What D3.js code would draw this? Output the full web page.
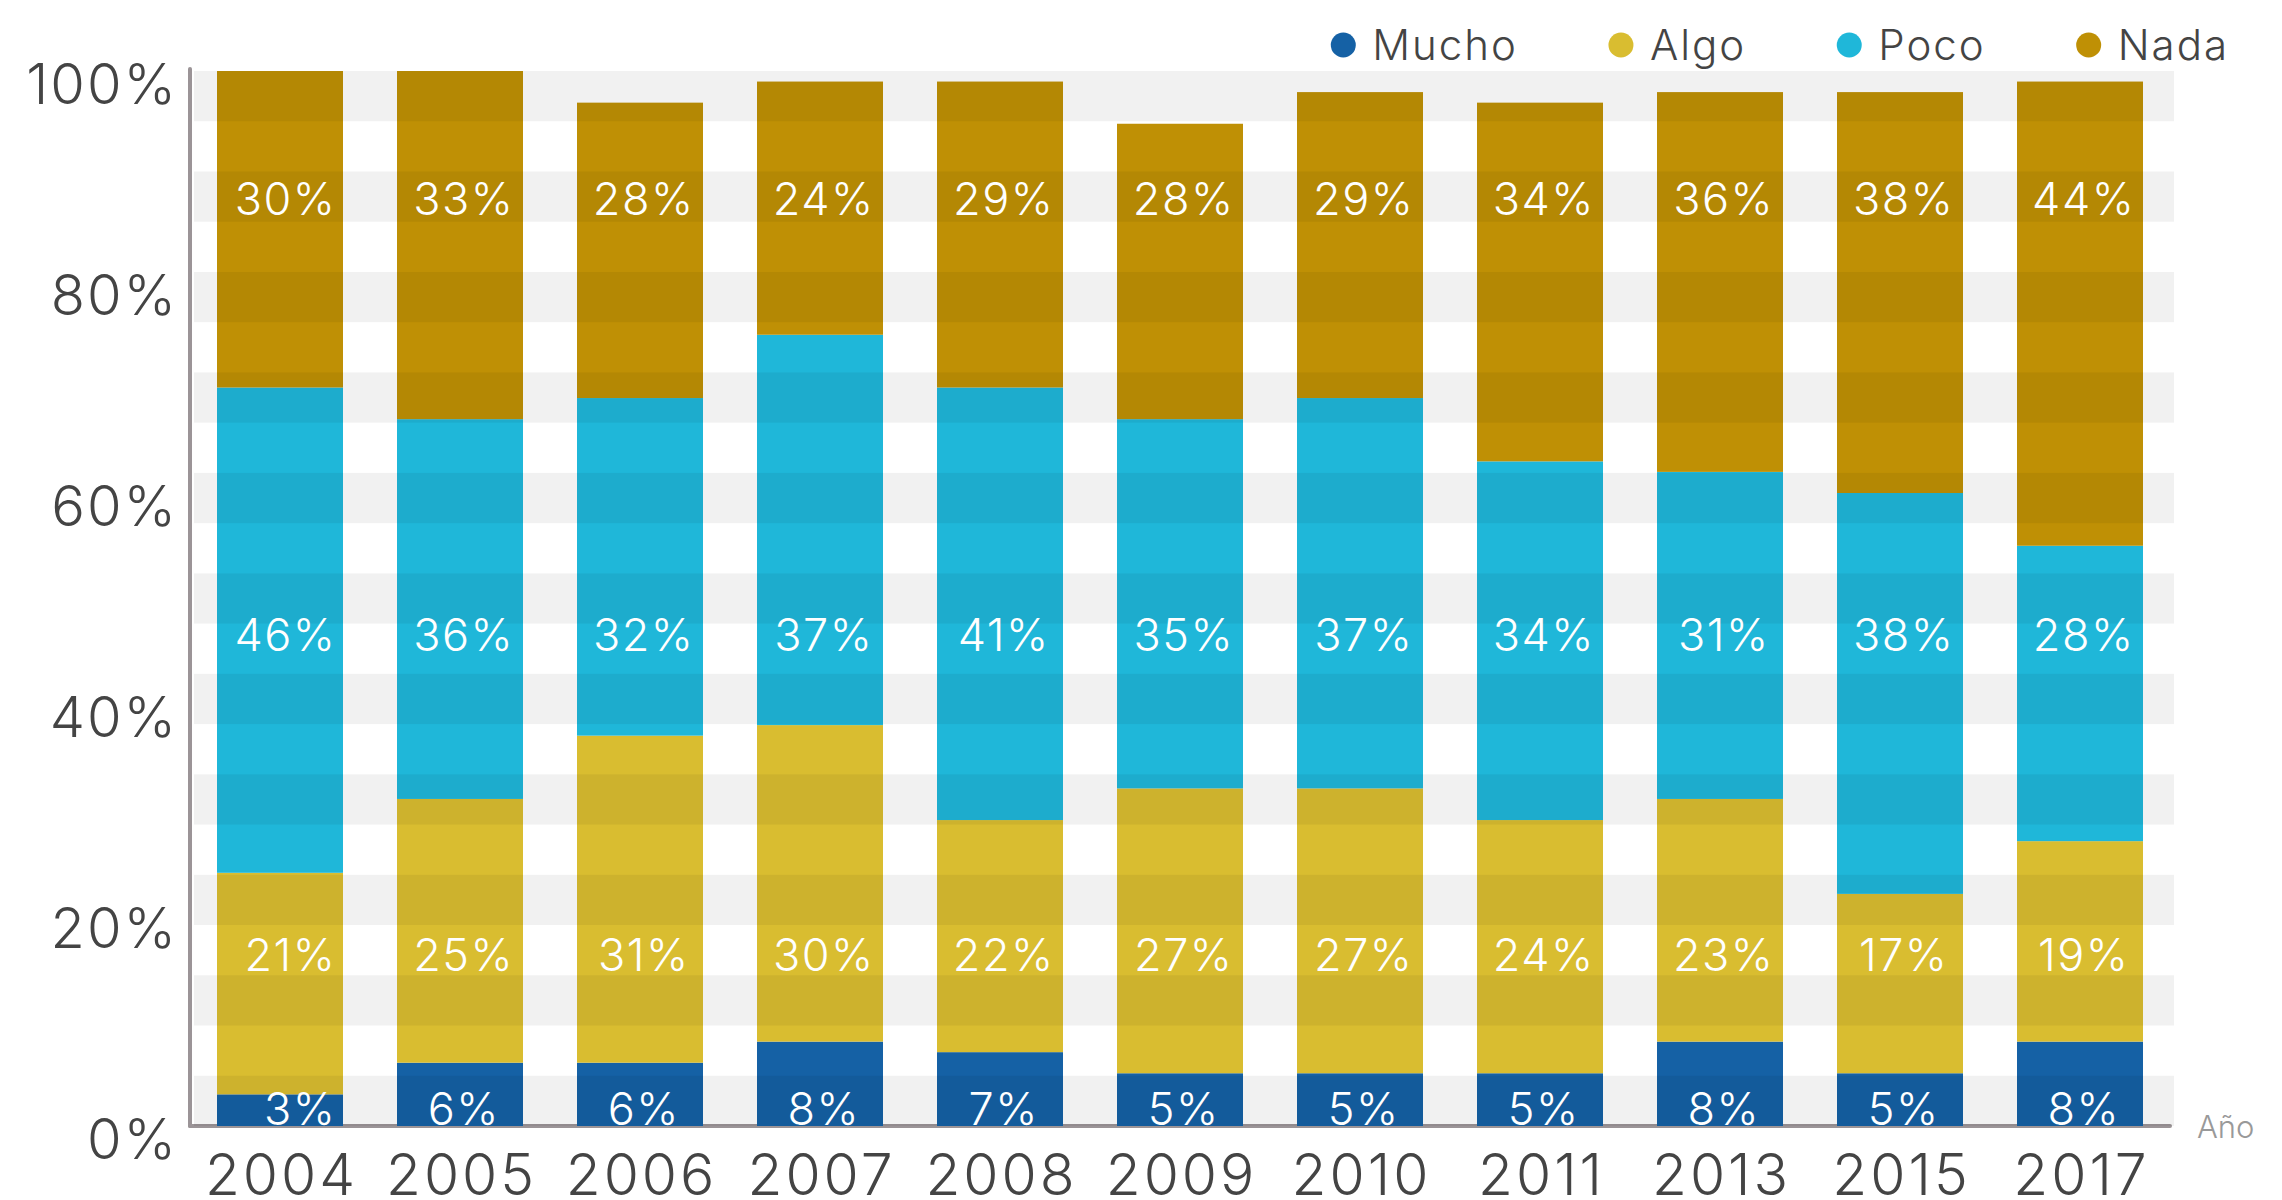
<!DOCTYPE html>
<html>
<head>
<meta charset="utf-8">
<script src="https://cdnjs.cloudflare.com/ajax/libs/d3/7.8.5/d3.min.js"></script>
<style>
  body { margin: 0; background: #fff; }
  text { font-family: Inter, Lato, sans-serif; font-weight: 300; }
</style>
</head>
<body>
<div id="vis"></div>
<script>
// chart data
const years = ['2004', '2005', '2006', '2007', '2008', '2009', '2010', '2011', '2013', '2015', '2017'];
const mucho = [3, 6, 6, 8, 7, 5, 5, 5, 8, 5, 8];
const algo  = [21, 25, 31, 30, 22, 27, 27, 24, 23, 17, 19];
const poco  = [46, 36, 32, 37, 41, 35, 37, 34, 31, 38, 28];
const nada  = [30, 33, 28, 24, 29, 28, 29, 34, 36, 38, 44];
const seriesNames = ['Mucho', 'Algo', 'Poco', 'Nada'];
const yTicks = [0, 20, 40, 60, 80, 100];

const colors = ['#1561a5', '#d9bd30', '#1fb7d9', '#bf9005'];
// labels sit on a fixed level per series (in % units)
const labelLevel = [1.6, 16.2, 46.6, 87.9];

let W = 2282, H = 1200;

let rows = years.map((y, i) => ({ year: y, Mucho: mucho[i], Algo: algo[i], Poco: poco[i], Nada: nada[i] }));
let stacked = d3.stack().keys(seriesNames)(rows);

let svg = d3.select('#vis')
  .append('svg')
  .attr('width', W)
  .attr('height', H);

let x = d3.scaleBand()
  .domain(years)
  .range([190, 2170])
  .paddingInner(0.3)
  .paddingOuter(0.15);

let y = d3.scaleLinear()
  .domain([0, 100])
  .range([1126, 71]);

// axis lines (bars are drawn over them)
let axisColor = '#9b9497';
svg.append('line')
  .attr('x1', 190).attr('x2', 190)
  .attr('y1', y(100) - 2).attr('y2', y(0))
  .attr('stroke', axisColor).attr('stroke-width', 4).attr('stroke-linecap', 'round');
svg.append('line')
  .attr('x1', 190).attr('x2', 2170)
  .attr('y1', y(0)).attr('y2', y(0))
  .attr('stroke', axisColor).attr('stroke-width', 4).attr('stroke-linecap', 'round');

// stacked bars
svg.append('g')
  .selectAll('g')
  .data(stacked)
  .join('g')
  .attr('fill', (d, i) => colors[i])
  .selectAll('rect')
  .data(d => d)
  .join('rect')
  .attr('x', d => x(d.data.year))
  .attr('width', x.bandwidth())
  .attr('y', d => y(d[1]))
  .attr('height', d => y(d[0]) - y(d[1]));

// light stripes laid over everything
let nBands = 21;
let bandH = (y(0) - y(100)) / nBands;
svg.append('g')
  .selectAll('rect')
  .data(d3.range(0, nBands, 2))
  .join('rect')
  .attr('x', 194)
  .attr('width', 2174 - 194)
  .attr('y', k => y(100) + k * bandH)
  .attr('height', bandH)
  .attr('fill', 'rgba(0,0,0,0.055)');

// value labels; the first column is pushed to the right edge of its bar
let fsVal = 45, lsVal = 1.5;
svg.append('g')
  .selectAll('g')
  .data(stacked)
  .join('g')
  .each(function(s, si) {
    d3.select(this).selectAll('text')
      .data(s)
      .join('text')
      .attr('x', (d, i) => i == 0 ? x(d.data.year) + x.bandwidth() - 8 + lsVal : x(d.data.year) + x.bandwidth() / 2 + 3 + lsVal / 2)
      .attr('y', y(labelLevel[si]) + fsVal * 0.36)
      .attr('text-anchor', (d, i) => i == 0 ? 'end' : 'middle')
      .attr('fill', '#fff')
      .attr('font-size', fsVal)
      .attr('letter-spacing', lsVal)
      .text(d => (d[1] - d[0]) + '%');
  });

// y tick labels
svg.append('g')
  .selectAll('text')
  .data(yTicks)
  .join('text')
  .attr('x', 178)
  .attr('y', d => y(d) + 33)
  .attr('text-anchor', 'end')
  .attr('fill', '#444')
  .attr('font-size', 56)
  .attr('letter-spacing', 2)
  .text(d => d + '%');

// x tick labels
svg.append('g')
  .selectAll('text')
  .data(years)
  .join('text')
  .attr('x', d => x(d) + x.bandwidth() / 2 + 1.5)
  .attr('y', 1195)
  .attr('text-anchor', 'middle')
  .attr('fill', '#444')
  .attr('font-size', 57)
  .attr('letter-spacing', 3)
  .text(d => d);

// axis title
svg.append('text')
  .attr('x', 2197)
  .attr('y', 1138)
  .attr('fill', '#999')
  .attr('font-size', 31)
  .attr('font-weight', 200)
  .text('Año');

// legend, laid out left to right then pushed so it ends at the right edge
let legend = svg.append('g');
let cx = 0;
seriesNames.forEach((name, i) => {
  legend.append('circle')
    .attr('cx', cx).attr('cy', 45).attr('r', 12.5)
    .attr('fill', colors[i]);
  let t = legend.append('text')
    .attr('x', cx + 29)
    .attr('y', 60)
    .attr('fill', '#444')
    .attr('font-size', 42)
    .attr('letter-spacing', 2)
    .text(name);
  cx = cx + 29 + t.node().getComputedTextLength() + 103;
});
let legendEnd = cx - 103;
legend.attr('transform', 'translate(' + (2229 - legendEnd) + ',0)');
</script>
</body>
</html>
